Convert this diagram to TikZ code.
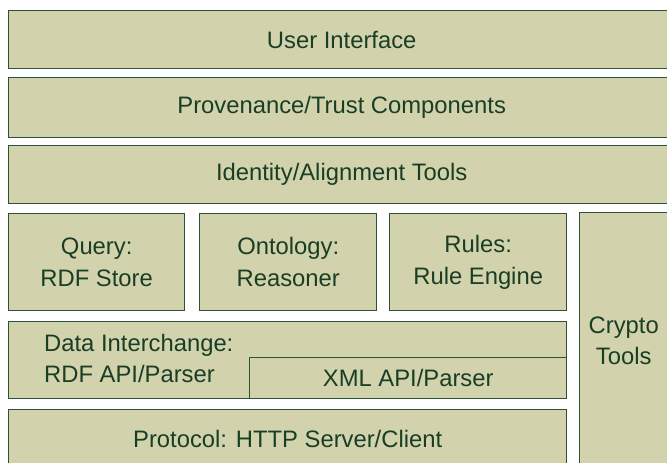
\documentclass[tikz,border=0pt]{standalone}
\usepackage{fontspec}
\setmainfont{Liberation Sans}
\definecolor{fillc}{RGB}{210,211,172}
\definecolor{edgec}{RGB}{40,85,55}
\definecolor{textc}{RGB}{25,62,38}
\begin{document}
\begin{tikzpicture}[x=1pt,y=-1pt,
  layer/.style={draw=edgec,fill=fillc,line width=1.4pt,anchor=north west,inner sep=0pt,
    text=textc,align=center,font=\fontsize{23.8}{31.5}\selectfont},
  lbl/.style={text=textc,inner sep=0pt,font=\fontsize{23.8}{31.5}\selectfont}]
\useasboundingbox (0,0) rectangle (667,463);
\clip (0,0) rectangle (667,463);
\node[layer,minimum width=666,minimum height=58] (ui) at (8,10) {User Interface};
\node[layer,minimum width=666,minimum height=60] (prov) at (8,77) {Provenance/Trust Components};
\node[layer,minimum width=666,minimum height=58] (ident) at (8,145) {Identity/Alignment Tools};
\node[layer,minimum width=176,minimum height=97] (query) at (8,213) {Query:\\RDF Store};
\node[layer,minimum width=177,minimum height=97] (onto) at (199,213) {Ontology:\\Reasoner};
\node[layer,minimum width=177,minimum height=97] (rules) at (389,213) {Rules:\\Rule Engine};
\node[layer,minimum width=88,minimum height=256] (crypto) at (579,212) {Crypto\\Tools};
\node[layer,minimum width=558,minimum height=77] (data) at (8,321) {};
\node[layer,minimum width=317,minimum height=41] (xml) at (249,357) {XML API/Parser};
\node[lbl,align=left,anchor=north west] (datat) at (44,334) {Data Interchange:\\RDF API/Parser};
\node[layer,minimum width=558,minimum height=58] (proto) at (8,409) {Protocol: HTTP Server/Client};
\end{tikzpicture}
\end{document}
